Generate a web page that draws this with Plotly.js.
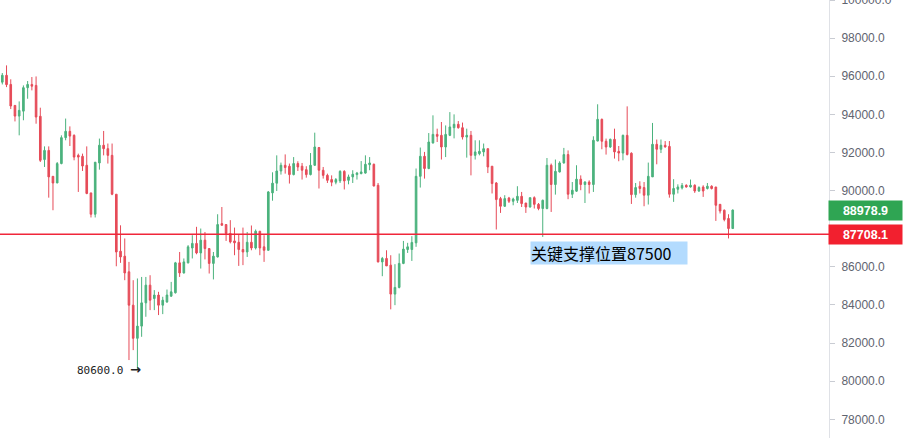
<!DOCTYPE html>
<html>
<head>
<meta charset="utf-8">
<script src="https://cdn.plot.ly/plotly-3.0.1.min.js"></script>
<style>html,body{margin:0;padding:0;background:#fff;}#chart{width:904px;height:438px;}</style>
</head>
<body>
<div id="chart"></div>
<script>
const openP = [95690,96050,95570,94470,93910,94170,95400,95570,95520,93900,91630,92110,90750,90400,91420,92780,93110,92900,91850,91800,
91330,89880,88760,91450,92380,92200,91850,89810,86820,86560,85740,83990,82250,82890,84110,85040,84340,84520,83990,84160,
84460,84640,86210,85680,86210,86990,87230,86730,87400,86960,86180,86520,88270,88220,87750,87360,87290,86910,86780,87290,
86990,87870,87050,86870,89880,90390,91030,91330,91280,90840,91420,91280,91100,90840,91330,92260,91070,90800,90580,90440,
90510,91010,90540,90720,90840,90890,90920,91360,91380,90280,86260,86440,86090,84570,84920,86180,86910,86910,87260,90750,
91800,91160,92500,92950,92900,92290,92900,93300,93480,93300,92810,92900,91850,91940,92030,92200,91280,90400,89580,89180,
89610,89440,89490,89700,89350,89140,89630,89280,89060,89060,91330,90320,90980,91450,91890,89810,89970,90600,90320,90450,
90320,92600,93740,92590,92290,92690,92060,91970,92900,91960,89790,90230,90160,89760,90720,92430,92170,92380,92320,89810,
90070,90140,90280,90190,90280,89980,90190,90110,90230,90190,89280,88970,88540,88010];
const highP = [96170,96570,95840,94470,94680,95520,95750,95960,95990,94350,92320,92320,90750,91500,92900,93780,93370,92950,91940,91940,
92320,89880,91500,92730,93130,92470,92470,89810,88180,87490,86260,85300,85390,85470,85470,85560,84780,84690,84430,84810,
85210,86260,86780,86440,87140,87660,88100,88010,87830,86960,86780,88760,89140,88220,88450,88060,87700,88060,87830,88170,
87960,87870,87660,89980,90960,91850,91470,91900,91420,91760,91540,91450,91280,91970,93040,92290,91240,90890,90800,90660,
91070,91070,90840,91070,90980,91550,91850,91760,91420,90400,86520,86870,86610,86140,86700,87360,87260,87610,91160,92260,
92030,93020,93950,93250,93600,93420,94120,94000,93650,93570,93250,93130,92640,92640,92470,92200,91280,90450,89670,89760,
89670,89630,90230,89930,89350,89630,89700,89350,89530,91710,91420,91630,91540,92240,92110,90450,91330,90800,90490,90540,
92850,94530,93780,92730,92730,93250,92340,92940,94420,92010,90400,90490,90450,91470,93550,92680,92680,92600,92600,90600,
90330,90400,90330,90580,90330,90230,90280,90400,90280,90190,89280,89010,88760,89010];
const lowP = [95570,95430,94280,93630,92900,93690,94820,95260,93510,91500,91240,89630,88970,90400,91380,92640,92340,91590,89930,91030,
89810,88590,88590,91100,91850,91420,89760,86030,86210,85300,81110,81630,80600,82330,83380,83730,83730,83470,83520,84110,
84430,84600,85470,85650,86180,86440,86660,85910,86390,85650,85340,86490,88180,87360,87230,86610,86050,86090,86520,86870,
86910,86610,86260,86840,89470,89980,90840,90890,90370,90800,91030,90580,90680,90800,91290,90110,90630,90400,90230,90330,
90400,90060,90330,90400,90580,90860,90890,91070,90230,86230,85510,86050,83770,83990,84870,86140,86730,86310,87050,90160,
90630,91120,92470,92550,91630,91760,92860,92740,93250,92680,91730,90800,91630,91850,91800,90920,89850,87960,88830,89140,
89350,89230,89350,89140,88830,89110,89060,88970,87570,89020,88880,89790,90950,91420,89550,89610,89930,90020,89350,89850,
89930,92590,92170,91890,92240,91680,91540,91590,91850,89300,89630,89850,89180,89270,90720,91380,91970,92260,89630,89410,
89850,90060,90160,90160,89880,89930,89670,90060,90060,88410,88800,88390,87490,88010];
const closeP = [96050,95560,94440,93910,94210,95400,95570,95480,93860,91590,92110,90720,90400,91420,92780,93110,92860,91760,91760,91290,
89850,88760,91490,92380,92200,91850,89810,86780,86520,85680,83990,82250,82890,84110,85040,84250,84520,83990,84250,84520,
84690,86210,85680,86260,87050,87230,86730,87400,86960,86180,86560,88220,88180,87750,87310,87260,86910,86780,87290,86990,
87870,86990,86870,89930,90390,91030,91330,91210,90840,91420,91240,91070,90840,91330,92290,91070,90800,90540,90440,90580,
91010,90510,90720,90860,90920,90980,91380,91450,90240,86260,86440,86050,84570,84920,86180,86930,87050,87280,90750,91800,
91160,92550,92950,92850,92290,92950,93340,93480,93300,92810,92900,91850,92030,92060,92200,91240,90370,89530,89180,89580,
89440,89560,89700,89320,89140,89630,89280,89060,89490,91330,90320,91010,91450,91890,89810,90020,90600,90320,90450,90320,
92640,93740,92590,92290,92690,92030,91970,92900,91890,89790,90160,90110,89760,90750,92430,92170,92380,92290,89810,90110,
90190,90270,90190,90280,89980,90160,89980,90230,90110,89230,88930,88480,88010,88978.9];

const yTickVals = [78000,80000,82000,84000,86000,88000,90000,92000,94000,96000,98000,100000];
const yTickText = ['78000.0','80000.0','82000.0','84000.0','86000.0','','90000.0','92000.0','94000.0','96000.0','98000.0','100000.0'];

const supportLine = 87708.1;
const supportText = '关键支撑位置87500';
const lowMarkLabel = '80600.0';
const lowMarkArrow = '→';
const lowMarkValue = 80600;
const lastPrice = closeP[closeP.length - 1];
const xIdx = openP.map((_, i) => i);

const UP = '#4bb27d', DOWN = '#e64b58';

const trace = {
  type: 'candlestick',
  x: xIdx, open: openP, high: highP, low: lowP, close: closeP,
  increasing: {line: {color: UP, width: 1}, fillcolor: UP},
  decreasing: {line: {color: DOWN, width: 1}, fillcolor: DOWN},
  whiskerwidth: 0,
  hoverinfo: 'skip',
  showlegend: false
};

const layout = {
  width: 904, height: 438,
  margin: {l: 0, r: 75, t: 0, b: 0},
  paper_bgcolor: '#ffffff', plot_bgcolor: '#ffffff',
  showlegend: false,
  boxgap: 0.45,
  xaxis: {range: [-0.545, 195.8], visible: false, rangeslider: {visible: false}, fixedrange: true},
  yaxis: {
    side: 'right', range: [77020, 100001], tickmode: 'array', tickvals: yTickVals, ticktext: yTickText,
    showgrid: false, zeroline: false, showline: true, linecolor: '#dfe1e6', linewidth: 1,
    ticks: 'outside', ticklen: 5, tickcolor: '#c9ccd3', tickwidth: 1, ticklabelstandoff: 4,
    ticklabeloverflow: 'allow',
    tickfont: {family: 'Liberation Sans, Arial, sans-serif', size: 12, color: '#5f6470'},
    fixedrange: true
  },
  shapes: [{
    type: 'line', xref: 'paper', x0: 0, x1: 1, yref: 'y', y0: supportLine, y1: supportLine,
    line: {color: '#f0263a', width: 1.6}
  }],
  annotations: [
    {xref: 'paper', x: 1, xanchor: 'left', xshift: -1, yref: 'y', y: lastPrice, yanchor: 'middle',
     text: lastPrice.toFixed(1), showarrow: false, bgcolor: '#2fa553', width: 73, height: 19, borderpad: 0,
     align: 'center', font: {family: 'Liberation Sans, Arial, sans-serif', size: 12.5, color: '#ffffff', weight: 'bold'}},
    {xref: 'paper', x: 1, xanchor: 'left', xshift: -1, yref: 'y', y: supportLine, yanchor: 'middle',
     text: supportLine.toFixed(1), showarrow: false, bgcolor: '#f2202f', width: 73, height: 19, borderpad: 0,
     align: 'center', font: {family: 'Liberation Sans, Arial, sans-serif', size: 12.5, color: '#ffffff', weight: 'bold'}},
    {xref: 'paper', x: 530 / 829, xanchor: 'left', yref: 'paper', y: 1 - 253 / 438, yanchor: 'middle',
     text: supportText, showarrow: false, bgcolor: '#b3dbfe', width: 156, height: 22, borderpad: 0,
     align: 'left', font: {family: 'Noto Sans CJK SC, sans-serif', size: 16, color: '#000000'}},
    {xref: 'paper', x: 76 / 829, xanchor: 'left', yref: 'y', y: lowMarkValue, yanchor: 'middle',
     text: lowMarkLabel + ' <span style="font-family:DejaVu Sans, sans-serif;font-size:13px;font-weight:bold">' + lowMarkArrow + '</span>',
     showarrow: false, borderpad: 0,
     font: {family: 'DejaVu Sans Mono, monospace', size: 11, color: '#222222'}}
  ]
};

Plotly.newPlot('chart', [trace], layout, {displayModeBar: false, staticPlot: true});
</script>
</body>
</html>
